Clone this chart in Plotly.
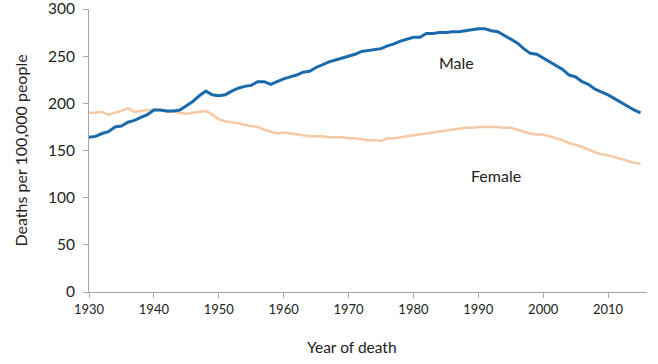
import plotly.graph_objects as go

years = list(range(1930, 2016))

male = [164, 165, 168, 170, 175, 176, 180, 182, 185, 188,
        193, 193, 192, 192, 193, 198, 202, 208, 213, 209,
        208, 209, 213, 216, 218, 219, 223, 223, 220, 223,
        226, 228, 230, 233, 234, 238, 241, 244, 246, 248,
        250, 252, 255, 256, 257, 258, 261, 263, 266, 268,
        270, 270, 274, 274, 275, 275, 276, 276, 277, 278,
        279, 279, 277, 276, 272, 268, 264, 258, 253, 252,
        248, 244, 240, 236, 230, 228, 223, 220, 215, 212,
        209, 205, 201, 197, 193, 190]

female = [190, 190, 191, 188, 190, 192, 195, 191, 192, 193,
          193, 193, 191, 191, 190, 189, 190, 191, 192, 188,
          183, 181, 180, 179, 177, 176, 175, 172, 170, 168,
          169, 168, 167, 166, 165, 165, 165, 164, 164, 164,
          163, 163, 162, 161, 161, 160, 163, 163, 164, 165,
          166, 167, 168, 169, 170, 171, 172, 173, 174, 174,
          175, 175, 175, 175, 174, 174, 172, 170, 168, 167,
          167, 165, 163, 161, 158, 156, 154, 151, 148, 146,
          145, 143, 141, 139, 137, 136]

series_labels = ["Male", "Female"]
x_ticks = [1930, 1940, 1950, 1960, 1970, 1980, 1990, 2000, 2010]
y_ticks = [0, 50, 100, 150, 200, 250, 300]

FONT = "Lato, 'Open Sans', sans-serif"
TXT = "#222222"

fig = go.Figure()
fig.add_trace(go.Scatter(x=years, y=female, mode="lines", name=series_labels[1],
                         line=dict(color="#f5c8a6", width=2.5)))
fig.add_trace(go.Scatter(x=years, y=male, mode="lines", name=series_labels[0],
                         line=dict(color="#1b6aab", width=3)))

fig.update_layout(
    width=658, height=364,
    margin=dict(l=89, r=11, t=9, b=72, autoexpand=False),
    paper_bgcolor="white", plot_bgcolor="white",
    showlegend=False,
    font=dict(family=FONT, color=TXT),
)
fig.update_xaxes(
    range=[1930, 2016], tickvals=x_ticks, ticktext=[str(v) for v in x_ticks],
    showgrid=False, zeroline=False, showline=True, linecolor="#a6a6a6", linewidth=1,
    ticks="outside", ticklen=5, tickcolor="#a6a6a6", automargin=False,
    ticklabeloverflow="allow",
    tickfont=dict(size=13, family=FONT, color=TXT),
)
fig.update_yaxes(
    range=[0, 300.01], tickvals=y_ticks, ticktext=[str(v) for v in y_ticks],
    showgrid=False, zeroline=False, showline=True, linecolor="#a6a6a6", linewidth=1,
    ticks="outside", ticklen=5, tickcolor="#a6a6a6", automargin=False,
    ticklabeloverflow="allow", ticklabelstandoff=5,
    tickfont=dict(size=15.5, family=FONT, color=TXT),
)

fig.add_annotation(x=1986.7, y=243, text=series_labels[0], showarrow=False,
                   font=dict(size=16, family=FONT, color=TXT))
fig.add_annotation(x=1992.7, y=123.3, text=series_labels[1], showarrow=False,
                   font=dict(size=16, family=FONT, color=TXT))

fig.add_annotation(xref="paper", yref="paper", x=(352 - 89) / 558, y=-0.155,
                   xanchor="center", yanchor="top", text="Year of death", showarrow=False,
                   font=dict(size=15.5, family=FONT, color=TXT))
fig.add_annotation(xref="paper", yref="paper", x=(20 - 89) / 558, y=0.5, textangle=-90,
                   xanchor="center", yanchor="middle",
                   text="Deaths per 100,000 people", showarrow=False,
                   font=dict(size=16, family=FONT, color=TXT))

fig.write_html("out.html", config={"displayModeBar": False},
               post_script="document.body.style.margin='0';")
